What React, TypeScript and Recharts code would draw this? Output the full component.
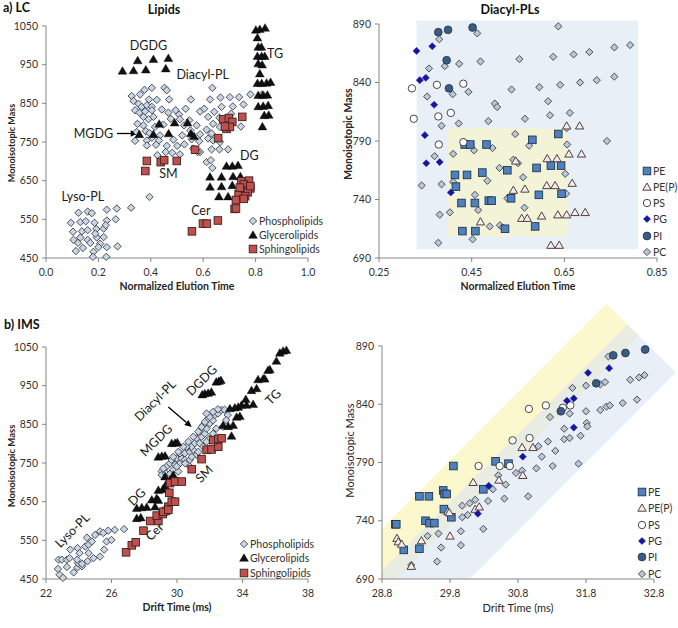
import React from "react";
import {
  ReferenceArea,
  ReferenceDot,
  ReferenceLine,
  Scatter,
  ScatterChart,
  XAxis,
  YAxis,
} from "recharts";

type Pt = [number, number];
const FONT = "Lato, 'Open Sans', sans-serif";

// ---------- a) LC : Lipids ----------
const lcPhospho: Pt[] = [
  // lyso-PL
  [0.124, 567], [0.159, 570], [0.175, 566], [0.232, 575], [0.27, 578], [0.325, 580],
  [0.095, 541], [0.131, 543], [0.152, 545], [0.185, 541], [0.232, 547], [0.266, 550],
  [0.103, 518], [0.137, 519], [0.159, 522], [0.192, 525], [0.22, 526], [0.228, 535],
  [0.105, 497], [0.131, 503], [0.159, 497], [0.194, 503], [0.22, 504], [0.188, 513],
  [0.122, 489], [0.169, 489], [0.207, 487], [0.2, 478], [0.232, 478], [0.273, 480],
  [0.141, 476], [0.114, 468], [0.181, 466], [0.179, 453], [0.23, 453], [0.395, 608],
  // diacyl-PL
  [0.327, 869], [0.359, 873], [0.376, 885], [0.404, 890], [0.393, 860], [0.423, 859],
  [0.452, 890], [0.461, 884], [0.47, 860], [0.334, 856], [0.353, 849], [0.365, 841],
  [0.385, 845], [0.404, 841], [0.442, 834], [0.34, 832], [0.357, 826], [0.378, 829],
  [0.404, 832], [0.41, 815], [0.372, 815], [0.391, 809], [0.349, 797], [0.372, 793],
  [0.416, 789], [0.448, 795], [0.346, 776], [0.381, 778], [0.395, 773], [0.435, 767],
  [0.34, 753], [0.385, 754], [0.404, 761], [0.431, 754], [0.486, 756], [0.385, 741],
  [0.42, 743], [0.461, 740], [0.425, 716], [0.457, 724], [0.482, 722], [0.511, 718],
  [0.467, 826], [0.495, 832], [0.508, 821], [0.476, 810], [0.511, 809], [0.533, 836],
  [0.553, 860], [0.588, 829], [0.604, 836], [0.626, 860], [0.635, 890], [0.666, 865],
  [0.702, 866], [0.737, 866], [0.78, 873], [0.826, 873], [0.67, 841], [0.713, 842],
  [0.754, 847], [0.619, 815], [0.642, 828], [0.662, 813], [0.744, 790], [0.707, 823],
  [0.527, 793], [0.547, 806], [0.575, 793], [0.551, 780], [0.588, 770], [0.613, 782],
  [0.632, 772], [0.664, 789], [0.638, 797], [0.52, 767], [0.556, 757], [0.585, 752],
  [0.528, 744], [0.501, 740], [0.562, 733], [0.588, 724], [0.619, 759], [0.638, 754],
  [0.664, 750], [0.632, 731], [0.662, 731], [0.695, 731], [0.613, 698], [0.629, 703],
  [0.635, 683], [0.579, 724],
];
const lcGlycero: Pt[] = [
  // DGDG
  [0.292, 934], [0.334, 935], [0.381, 937], [0.35, 961], [0.41, 964], [0.457, 940], [0.467, 967],
  // MGDG
  [0.356, 770], [0.41, 770], [0.432, 797], [0.468, 772], [0.491, 800], [0.54, 800], [0.553, 772], [0.565, 765],
  // DG
  [0.689, 688], [0.711, 688], [0.733, 690], [0.626, 660], [0.67, 660], [0.714, 661], [0.742, 661],
  [0.626, 634], [0.67, 635], [0.711, 638], [0.765, 638], [0.66, 609], [0.695, 609], [0.74, 609],
  // TG
  [0.801, 1040], [0.816, 1042], [0.836, 1045], [0.807, 1020], [0.81, 996], [0.822, 996],
  [0.807, 972], [0.823, 972], [0.835, 972], [0.81, 953], [0.825, 950], [0.816, 927],
  [0.807, 902], [0.823, 902], [0.842, 903], [0.857, 905], [0.81, 871], [0.828, 871],
  [0.845, 872], [0.81, 842], [0.829, 843], [0.848, 845], [0.833, 819], [0.85, 820], [0.826, 790],
];
const lcSphingo: Pt[] = [
  [0.385, 701], [0.438, 698], [0.451, 703], [0.499, 701], [0.379, 675],
  [0.569, 730], [0.657, 760],
  [0.676, 809], [0.698, 812], [0.711, 802], [0.689, 784], [0.702, 789], [0.749, 815], [0.683, 790],
  [0.745, 648], [0.775, 650], [0.755, 640], [0.78, 630], [0.745, 625], [0.77, 620], [0.735, 615],
  [0.76, 610], [0.725, 600], [0.755, 603], [0.72, 577], [0.725, 578], [0.78, 636], [0.74, 632],
  [0.557, 519], [0.599, 539], [0.614, 539], [0.656, 547],
];

// ---------- a) LC : Diacyl-PLs ----------
const lcPE: Pt[] = [
  [0.482, 787], [0.435, 787], [0.447, 787], [0.581, 791], [0.637, 796], [0.414, 761],
  [0.44, 761], [0.473, 763], [0.527, 765], [0.59, 767], [0.621, 769], [0.643, 769],
  [0.416, 751], [0.428, 737], [0.457, 737], [0.487, 739], [0.493, 739], [0.535, 741],
  [0.595, 744], [0.644, 745], [0.43, 713], [0.458, 713], [0.522, 715], [0.587, 717],
];
const lcPEP: Pt[] = [
  [0.655, 803], [0.683, 803], [0.613, 775], [0.634, 775], [0.66, 779], [0.687, 779],
  [0.545, 773], [0.54, 748], [0.565, 749], [0.612, 752], [0.63, 752], [0.667, 754],
  [0.469, 721], [0.558, 724], [0.57, 724], [0.601, 726], [0.636, 727], [0.655, 727],
  [0.673, 729], [0.695, 729], [0.621, 701], [0.639, 701],
];
const lcPS: Pt[] = [
  [0.321, 835], [0.375, 838], [0.432, 839], [0.325, 809], [0.378, 811], [0.405, 814],
  [0.379, 787], [0.432, 789],
];
const lcPG: Pt[] = [
  [0.331, 867], [0.365, 871], [0.338, 842], [0.351, 844], [0.369, 821], [0.349, 795],
  [0.352, 771], [0.381, 772], [0.405, 746],
];
const lcPI: Pt[] = [[0.378, 883], [0.399, 885], [0.452, 887], [0.396, 859], [0.401, 835]];
const lcPC: Pt[] = [
  [0.637, 888], [0.462, 882], [0.38, 877], [0.792, 872], [0.758, 870], [0.704, 866],
  [0.67, 864], [0.626, 862], [0.553, 860], [0.469, 858], [0.423, 856], [0.392, 854],
  [0.358, 852], [0.758, 845], [0.72, 842], [0.684, 840], [0.641, 838], [0.596, 836],
  [0.536, 834], [0.443, 832], [0.409, 830], [0.354, 828], [0.615, 824], [0.5, 822],
  [0.505, 819], [0.662, 814], [0.619, 812], [0.565, 809], [0.486, 807], [0.422, 805],
  [0.385, 803], [0.655, 801], [0.544, 796], [0.742, 790], [0.656, 787], [0.433, 789],
  [0.574, 786], [0.495, 784], [0.455, 782], [0.41, 779], [0.37, 777], [0.54, 774],
  [0.55, 771], [0.51, 767], [0.561, 759], [0.652, 762], [0.484, 756], [0.41, 755],
  [0.385, 753], [0.342, 752], [0.457, 744], [0.654, 745], [0.527, 741], [0.464, 731],
  [0.403, 729], [0.381, 727], [0.564, 733], [0.511, 718], [0.489, 717], [0.517, 716],
  [0.452, 706], [0.378, 703],
];

// ---------- b) IMS : Lipids ----------
const imsPhospho: Pt[] = [
  // lyso-PL
  [22.83, 461], [23.04, 453], [22.73, 476], [23.28, 481], [23.69, 467], [23.93, 480],
  [24.2, 483], [23.95, 491], [22.77, 500], [22.97, 500], [23.28, 500], [23.44, 504],
  [23.48, 526], [23.93, 530], [24.05, 517], [24.4, 534], [24.6, 539], [24.8, 547],
  [25.0, 564], [25.3, 573], [25.5, 569], [25.7, 547], [26.0, 551], [26.2, 577],
  [26.77, 579], [24.54, 496], [24.9, 504], [25.3, 508], [25.55, 526], [24.6, 517],
  [23.9, 500], [24.2, 489], [25.8, 575], [24.5, 557],
  // diacyl-PL
  [29.06, 728], [29.06, 719], [29.33, 723], [29.57, 722], [29.77, 732], [30.08, 728],
  [29.37, 741], [29.57, 749], [29.88, 745], [30.18, 749], [29.98, 762], [30.28, 762],
  [30.48, 758], [30.69, 745], [30.79, 758], [30.18, 775], [30.48, 775], [30.79, 779],
  [30.99, 784], [31.19, 771], [30.89, 792], [31.09, 801], [30.58, 792], [31.39, 801],
  [31.19, 814], [31.5, 818], [31.39, 831], [31.7, 826], [31.8, 839], [31.6, 848],
  [32.0, 852], [31.9, 865], [32.2, 860], [32.3, 874], [32.5, 878], [32.7, 887],
  [32.9, 888], [33.1, 874], [33.0, 861], [32.8, 844], [32.4, 839], [32.2, 826],
  [32.0, 814], [31.8, 805], [31.6, 792], [31.3, 779], [30.9, 766], [30.5, 749],
  [29.98, 741], [29.17, 736], [29.67, 758], [29.77, 766], [30.08, 779], [30.38, 792],
  [30.69, 805], [30.99, 818], [31.3, 831], [31.5, 843], [31.7, 856], [32.0, 869],
  [32.2, 882], [32.5, 889], [31.8, 878],
];
const imsGlycero: Pt[] = [
  // TG
  [33.33, 820], [32.82, 848], [33.13, 845], [33.43, 848], [33.64, 869], [33.84, 871],
  [33.74, 895], [33.94, 900], [34.25, 900], [34.55, 938], [34.86, 943], [34.95, 966],
  [35.26, 968], [35.36, 968], [35.56, 990], [35.67, 992], [36.07, 1014], [36.28, 1035],
  [36.48, 1040], [36.68, 1042], [34.2, 915], [34.65, 902], [33.53, 893], [33.23, 891],
  // DGDG
  [31.54, 927], [31.7, 930], [31.9, 931], [32.1, 934], [32.4, 960], [32.56, 962], [32.68, 964],
  // MGDG
  [28.86, 766], [29.07, 768], [29.27, 769], [29.68, 801], [29.88, 802], [30.02, 803],
  // DG
  [27.54, 607], [27.79, 609], [27.54, 633], [27.85, 635], [28.15, 636], [28.46, 655],
  [28.76, 659], [28.86, 680], [29.13, 682], [29.33, 687], [28.66, 637], [29.37, 698],
  [29.57, 706], [29.27, 715], [29.77, 719], [28.86, 654],
];
const imsSphingo: Pt[] = [
  [26.89, 519], [27.24, 537], [27.48, 545], [27.95, 575], [28.36, 600], [28.86, 600],
  [28.76, 614], [29.13, 618], [29.33, 626], [29.47, 637], [29.68, 650], [29.88, 650],
  [29.53, 673], [29.57, 698], [29.88, 702], [30.29, 702], [30.9, 734], [31.5, 760],
  [31.81, 784], [32.11, 785], [32.52, 792], [32.21, 809], [32.52, 812], [32.72, 814],
  [29.17, 624], [29.47, 629],
];

// ---------- b) IMS : Diacyl-PLs ----------
const imsPE: Pt[] = [
  [28.996, 737], [29.01, 737], [29.12, 715], [29.35, 716], [29.35, 761], [29.49, 761],
  [29.44, 740], [29.5, 738], [29.57, 738], [29.7, 766], [29.72, 763], [29.75, 763],
  [29.71, 750], [29.82, 743], [29.85, 787], [30.29, 767], [30.47, 791], [30.66, 789],
];
const imsPEP: Pt[] = [
  [29.02, 725], [29.04, 722], [29.09, 720], [29.38, 723], [29.23, 701], [29.77, 748],
  [29.79, 747], [29.8, 727], [30.14, 773], [30.17, 750], [30.23, 752], [30.52, 775],
  [30.86, 803], [31.02, 803], [30.87, 779],
];
const imsPS: Pt[] = [
  [30.22, 787], [30.53, 787], [30.68, 787], [30.72, 809], [30.97, 811], [30.96, 836],
  [31.21, 839], [31.46, 837], [31.57, 839],
];
const imsPG: Pt[] = [
  [30.21, 746], [30.37, 770], [30.87, 795], [31.52, 843], [31.62, 845], [31.62, 820],
  [31.83, 867], [32.14, 871],
];
const imsPI: Pt[] = [[31.43, 834], [31.95, 858], [32.2, 882], [32.38, 884], [32.67, 887]];
const imsPC: Pt[] = [
  [29.23, 702], [29.61, 705], [29.47, 727], [29.63, 729], [29.67, 717], [29.96, 731],
  [29.96, 719], [29.98, 753], [29.98, 743], [30.06, 745], [30.09, 755], [30.17, 758],
  [30.29, 733], [30.36, 757], [30.43, 767], [30.51, 779], [30.6, 759], [30.62, 771],
  [30.77, 781], [30.86, 783], [30.95, 761], [31.07, 785], [31.1, 804], [31.15, 795],
  [31.24, 808], [31.27, 829], [31.31, 787], [31.35, 800], [31.48, 810], [31.48, 819],
  [31.56, 832], [31.56, 811], [31.6, 854], [31.69, 789], [31.72, 813], [31.8, 856],
  [31.8, 834], [31.81, 824], [31.82, 821], [32.01, 835], [32.01, 857], [32.08, 859],
  [32.1, 838], [32.15, 839], [32.13, 881], [32.34, 841], [32.45, 861], [32.55, 844],
  [32.58, 863], [32.66, 865],
];

// shaded bands (data coordinates)
const lcOuterBox = { x1: 0.331, x2: 0.809, y1: 697.4, y2: 893 };
const lcInnerBox = { x1: 0.399, x2: 0.657, y1: 708.6, y2: 800.9 };
const imsYellowBand: Pt[] = [[28.8, 733.3], [32.1, 926.5], [32.58, 898.6], [29.01, 690], [28.8, 690]];
const imsBlueBand: Pt[] = [[28.8, 697.2], [32.41, 908.5], [33.12, 867.2], [30.09, 690], [28.8, 690]];

// annotation labels
const lcNotes = [
  { t: "DGDG", x: 0.391, y: 1000 }, { t: "TG", x: 0.874, y: 979 },
  { t: "Diacyl-PL", x: 0.598, y: 925 }, { t: "MGDG", x: 0.181, y: 772 },
  { t: "SM", x: 0.467, y: 668 }, { t: "DG", x: 0.776, y: 716 },
  { t: "Lyso-PL", x: 0.141, y: 608 }, { t: "Cer", x: 0.591, y: 573 },
];
const imsNotes = [
  { t: "Lyso-PL", x: 23.6, y: 576 }, { t: "Cer", x: 28.62, y: 573 },
  { t: "DG", x: 27.54, y: 663 }, { t: "MGDG", x: 28.72, y: 809 },
  { t: "Diacyl-PL", x: 28.66, y: 912 }, { t: "DGDG", x: 31.5, y: 964 },
  { t: "SM", x: 31.65, y: 722 }, { t: "TG", x: 35.87, y: 921 },
];

type Mk = { kind: "diamond" | "triangle" | "square" | "circle"; r: number; fill: string; stroke: string; sw: number };
const PHOSPHO: Mk = { kind: "diamond", r: 3.7, fill: "#c6d5e7", stroke: "#3f3f3f", sw: 0.9 };
const GLYCERO: Mk = { kind: "triangle", r: 4.2, fill: "#111", stroke: "#000", sw: 0.4 };
const SPHINGO: Mk = { kind: "square", r: 3.8, fill: "#c0504d", stroke: "#3b2020", sw: 0.9 };
const PE: Mk = { kind: "square", r: 3.8, fill: "#4f81bd", stroke: "#1f3550", sw: 0.9 };
const PEP: Mk = { kind: "triangle", r: 4, fill: "#f7ecea", stroke: "#4d4040", sw: 1 };
const PS: Mk = { kind: "circle", r: 3.7, fill: "#fff", stroke: "#333", sw: 0.9 };
const PG: Mk = { kind: "diamond", r: 3.6, fill: "#1515aa", stroke: "#0c0c80", sw: 0.4 };
const PI: Mk = { kind: "circle", r: 3.9, fill: "#3c5b82", stroke: "#22344d", sw: 0.8 };
const PC: Mk = { kind: "diamond", r: 3.6, fill: "#b9c8d8", stroke: "#3f3f3f", sw: 0.9 };

function mark(m: Mk, cx: number, cy: number) {
  const r = m.r;
  const common = { fill: m.fill, stroke: m.stroke, strokeWidth: m.sw };
  if (m.kind === "diamond")
    return <polygon points={`${cx},${cy - r} ${cx + r},${cy} ${cx},${cy + r} ${cx - r},${cy}`} {...common} />;
  if (m.kind === "triangle")
    return <polygon points={`${cx},${cy - r} ${cx + r * 1.05},${cy + r * 0.8} ${cx - r * 1.05},${cy + r * 0.8}`} {...common} />;
  if (m.kind === "square") return <rect x={cx - r} y={cy - r} width={2 * r} height={2 * r} {...common} />;
  return <circle cx={cx} cy={cy} r={r} {...common} />;
}

const toRows = (pts: Pt[]) => pts.map(([x, y]) => ({ x, y }));

const polyShape = (poly: Pt[], fill: string, opacity: number) => (p: any) => {
  const xs = poly.map((q) => q[0]);
  const ys = poly.map((q) => q[1]);
  const x1 = Math.min(...xs), x2 = Math.max(...xs), y1 = Math.min(...ys), y2 = Math.max(...ys);
  const pts = poly
    .map(([dx, dy]) => {
      const px = p.x + ((dx - x1) / (x2 - x1)) * p.width;
      const py = p.y + ((y2 - dy) / (y2 - y1)) * p.height;
      return `${px},${py}`;
    })
    .join(" ");
  return <polygon points={pts} fill={fill} fillOpacity={opacity} stroke="none" />;
};

function Band({ poly, fill, opacity }: { poly: Pt[]; fill: string; opacity: number }) {
  const xs = poly.map((q) => q[0]);
  const ys = poly.map((q) => q[1]);
  return (
    <ReferenceArea
      x1={Math.min(...xs)}
      x2={Math.max(...xs)}
      y1={Math.min(...ys)}
      y2={Math.max(...ys)}
      ifOverflow="visible"
      shape={polyShape(poly, fill, opacity)}
    />
  );
}

const noteShape = (text: string, angle: number) => (p: any) => (
  <text
    x={p.cx}
    y={p.cy}
    textAnchor="middle"
    dominantBaseline="central"
    transform={angle ? `rotate(${angle} ${p.cx} ${p.cy})` : undefined}
    fontSize={12.5}
    fontFamily={FONT}
    fill="#1a1a1a"
  >
    {text}
  </text>
);

const arrowShape = (p: any) => {
  const { x1, y1, x2, y2 } = p;
  const a = Math.atan2(y2 - y1, x2 - x1);
  const L = 7, W = 3.2;
  const bx = x2 - L * Math.cos(a), by = y2 - L * Math.sin(a);
  const h = `${x2},${y2} ${bx - W * Math.sin(a)},${by + W * Math.cos(a)} ${bx + W * Math.sin(a)},${by - W * Math.cos(a)}`;
  return (
    <g>
      <line x1={x1} y1={y1} x2={bx} y2={by} stroke="#000" strokeWidth={1.3} />
      <polygon points={h} fill="#000" />
    </g>
  );
};

type Series = { name: string; pts: Pt[]; mk: Mk };

type PanelProps = {
  left: number; top: number; width: number; height: number;
  margin: { top: number; right: number; bottom: number; left: number };
  yWidth: number;
  xDomain: [number, number]; yDomain: [number, number];
  xTicks: number[]; yTicks: number[]; xDigits: number;
  xTitle: string; yTitle: string;
  xTitleWeight: number; yTitleWeight: number; yTitleSize: number; xTitleSize: number;
  yTitleX: number; yTitleShift: number;
  series: Series[];
  back?: React.ReactNode; front?: React.ReactNode;
};

function Panel(p: PanelProps) {
  const tick = { fill: "#333", fontSize: 10.5, fontFamily: FONT };
  return (
    <div style={{ position: "absolute", left: p.left, top: p.top }}>
      <ScatterChart width={p.width} height={p.height} margin={p.margin}>
        <XAxis
          type="number"
          dataKey="x"
          domain={p.xDomain}
          ticks={p.xTicks}
          tickFormatter={(v: number) => v.toFixed(p.xDigits)}
          stroke="#868686"
          tickSize={4}
          tickMargin={7}
          tick={tick}
          height={30}
          label={{
            content: (lp: any) => {
              const vb = lp.viewBox;
              return (
                <text x={vb.x + vb.width / 2} y={vb.y + 28} textAnchor="middle" dominantBaseline="central"
                  fontFamily={FONT} fontSize={p.xTitleSize} fontWeight={p.xTitleWeight} fill="#262626">
                  {p.xTitle}
                </text>
              );
            },
          }}
        />
        <YAxis
          type="number"
          dataKey="y"
          domain={p.yDomain}
          ticks={p.yTicks}
          stroke="#868686"
          tickSize={4}
          tickMargin={4}
          tick={tick}
          width={p.yWidth}
          label={{
            content: (lp: any) => {
              const vb = lp.viewBox;
              const cx = vb.x + p.yTitleX;
              const cy = vb.y + vb.height / 2 + p.yTitleShift;
              return (
                <text x={cx} y={cy} textAnchor="middle" dominantBaseline="central" transform={`rotate(-90 ${cx} ${cy})`}
                  fontFamily={FONT} fontSize={p.yTitleSize} fontWeight={p.yTitleWeight} fill="#262626">
                  {p.yTitle}
                </text>
              );
            },
          }}
        />
        {p.back}
        {p.series.map((s) => (
          <Scatter
            key={s.name}
            name={s.name}
            data={toRows(s.pts)}
            isAnimationActive={false}
            shape={(sp: any) => mark(s.mk, sp.cx, sp.cy)}
          />
        ))}
        {p.front}
      </ScatterChart>
    </div>
  );
}

function LegendBox({ items, iconX, textX, firstY, gap, size }: {
  items: { label: string; mk: Mk }[]; iconX: number; textX: number; firstY: number; gap: number; size: number;
}) {
  return (
    <>
      {items.map((it, i) => {
        const cy = firstY + i * gap;
        return (
          <div key={it.label} style={{ position: "absolute", left: 0, top: cy - 7, height: 14 }}>
            <svg width={12} height={14} style={{ position: "absolute", left: iconX - 6, top: 0 }}>
              {mark(it.mk, 6, 7)}
            </svg>
            <span style={{ position: "absolute", left: textX, top: 0, lineHeight: "14px", fontSize: size, color: "#333", whiteSpace: "nowrap" }}>
              {it.label}
            </span>
          </div>
        );
      })}
    </>
  );
}

const classLegend = [
  { label: "Phospholipids", mk: PHOSPHO },
  { label: "Glycerolipids", mk: GLYCERO },
  { label: "Sphingolipids", mk: SPHINGO },
];
const headLegend = [
  { label: "PE", mk: PE }, { label: "PE(P)", mk: PEP }, { label: "PS", mk: PS },
  { label: "PG", mk: PG }, { label: "PI", mk: PI }, { label: "PC", mk: PC },
];

export default function App() {
  const yTicksA = [450, 550, 650, 750, 850, 950, 1050];
  const yTicksB = [690, 740, 790, 840, 890];
  return (
    <div style={{ position: "absolute", left: 0, top: 0, width: 678, height: 628, background: "#fff", fontFamily: FONT, overflow: "hidden" }}>
      <Panel
        left={0} top={0} width={340} height={300}
        margin={{ top: 26, right: 32, bottom: 12, left: 0 }} yWidth={46}
        xDomain={[0, 1]} yDomain={[450, 1050]}
        xTicks={[0, 0.2, 0.4, 0.6, 0.8, 1.0]} yTicks={yTicksA} xDigits={1}
        xTitle="Normalized Elution Time" yTitle="Monoisotopic Mass"
        xTitleWeight={700} yTitleWeight={700} xTitleSize={10.5} yTitleSize={9}
        yTitleX={11} yTitleShift={1}
        series={[
          { name: "Phospholipids", pts: lcPhospho, mk: PHOSPHO },
          { name: "Glycerolipids", pts: lcGlycero, mk: GLYCERO },
          { name: "Sphingolipids", pts: lcSphingo, mk: SPHINGO },
        ]}
        front={
          <>
            {lcNotes.map((n) => (
              <ReferenceDot key={n.t} x={n.x} y={n.y} r={1} ifOverflow="visible" shape={noteShape(n.t, 0)} />
            ))}
            <ReferenceLine segment={[{ x: 0.271, y: 772 }, { x: 0.35, y: 772 }]} ifOverflow="visible" shape={arrowShape} />
          </>
        }
      />
      <Panel
        left={340} top={0} width={338} height={300}
        margin={{ top: 24, right: 21, bottom: 12, left: 0 }} yWidth={39}
        xDomain={[0.25, 0.85]} yDomain={[690, 890]}
        xTicks={[0.25, 0.45, 0.65, 0.85]} yTicks={yTicksB} xDigits={2}
        xTitle="Normalized Elution Time" yTitle="Monoisotopic Mass"
        xTitleWeight={700} yTitleWeight={700} xTitleSize={10.5} yTitleSize={10.5}
        yTitleX={8} yTitleShift={-7}
        series={[
          { name: "PC", pts: lcPC, mk: PC },
          { name: "PE", pts: lcPE, mk: PE },
          { name: "PE(P)", pts: lcPEP, mk: PEP },
          { name: "PS", pts: lcPS, mk: PS },
          { name: "PG", pts: lcPG, mk: PG },
          { name: "PI", pts: lcPI, mk: PI },
        ]}
        back={
          <>
            <ReferenceArea {...lcOuterBox} ifOverflow="visible" fill="#dbe5f1" fillOpacity={0.6} stroke="none" />
            <ReferenceArea {...lcInnerBox} ifOverflow="visible" fill="#fbf6c0" fillOpacity={0.55} stroke="none" />
          </>
        }
      />
      <Panel
        left={0} top={300} width={340} height={328}
        margin={{ top: 47, right: 32, bottom: 19, left: 0 }} yWidth={46}
        xDomain={[22, 38]} yDomain={[450, 1050]}
        xTicks={[22, 26, 30, 34, 38]} yTicks={yTicksA} xDigits={0}
        xTitle="Drift Time (ms)" yTitle="Monoisotopic Mass"
        xTitleWeight={700} yTitleWeight={700} xTitleSize={10.5} yTitleSize={9.5}
        yTitleX={11} yTitleShift={3}
        series={[
          { name: "Phospholipids", pts: imsPhospho, mk: PHOSPHO },
          { name: "Glycerolipids", pts: imsGlycero, mk: GLYCERO },
          { name: "Sphingolipids", pts: imsSphingo, mk: SPHINGO },
        ]}
        front={
          <>
            {imsNotes.map((n) => (
              <ReferenceDot key={n.t} x={n.x} y={n.y} r={1} ifOverflow="visible" shape={noteShape(n.t, -45)} />
            ))}
            <ReferenceLine segment={[{ x: 29.47, y: 895 }, { x: 30.9, y: 843 }]} ifOverflow="visible" shape={arrowShape} />
          </>
        }
      />
      <Panel
        left={340} top={300} width={338} height={328}
        margin={{ top: 46, right: 24, bottom: 19, left: 0 }} yWidth={42}
        xDomain={[28.8, 32.8]} yDomain={[690, 890]}
        xTicks={[28.8, 29.8, 30.8, 31.8, 32.8]} yTicks={yTicksB} xDigits={1}
        xTitle="Drift Time (ms)" yTitle="Monoisotopic Mass"
        xTitleWeight={400} yTitleWeight={400} xTitleSize={11} yTitleSize={11}
        yTitleX={9} yTitleShift={-12}
        series={[
          { name: "PC", pts: imsPC, mk: PC },
          { name: "PE", pts: imsPE, mk: PE },
          { name: "PE(P)", pts: imsPEP, mk: PEP },
          { name: "PS", pts: imsPS, mk: PS },
          { name: "PG", pts: imsPG, mk: PG },
          { name: "PI", pts: imsPI, mk: PI },
        ]}
        back={
          <>
            <Band poly={imsYellowBand} fill="#fbf6c0" opacity={0.8} />
            <Band poly={imsBlueBand} fill="#dbe5f1" opacity={0.6} />
          </>
        }
      />

      {/* titles */}
      <div style={{ position: "absolute", left: 3, top: 0, fontSize: 12.5, fontWeight: 700, color: "#111", lineHeight: "15px" }}>a) LC</div>
      <div style={{ position: "absolute", left: 4, top: 317, fontSize: 12.5, fontWeight: 700, color: "#111", lineHeight: "15px" }}>b) IMS</div>
      <div style={{ position: "absolute", left: 114, top: 2, width: 100, textAlign: "center", fontSize: 12.5, fontWeight: 700, color: "#111", lineHeight: "15px" }}>Lipids</div>
      <div style={{ position: "absolute", left: 450, top: 2, width: 120, textAlign: "center", fontSize: 12.5, fontWeight: 700, color: "#111", lineHeight: "15px" }}>Diacyl-PLs</div>

      {/* legends */}
      <LegendBox items={classLegend} iconX={253} textX={259} firstY={221} gap={14.2} size={10.5} />
      <LegendBox items={headLegend} iconX={647} textX={653} firstY={170.5} gap={16.3} size={10.5} />
      <LegendBox items={classLegend} iconX={244} textX={250} firstY={543.7} gap={14.5} size={10.5} />
      <LegendBox items={headLegend} iconX={642} textX={648} firstY={491.7} gap={16.4} size={10.5} />
    </div>
  );
}
